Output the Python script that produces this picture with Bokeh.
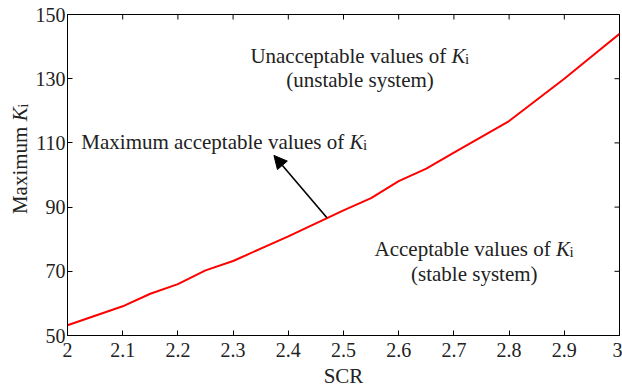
import math
from bokeh.plotting import figure
from bokeh.layouts import row
from bokeh.models import (Range1d, FixedTicker, Label, Arrow, NormalHead,
                          CustomJSTickFormatter)
from bokeh.embed import file_html
from bokeh.resources import INLINE

# ---- data ----
scr = [2.0, 2.1, 2.15, 2.2, 2.25, 2.3, 2.4, 2.5, 2.55, 2.6, 2.65, 2.7, 2.8, 2.9, 2.95, 3.0]
max_ki = [53.2, 59.1, 63.0, 66.0, 70.3, 73.2, 80.9, 89.0, 92.8, 98.1, 102.0, 107.0, 116.8, 130.0, 137.0, 144.0]
x_ticks = [2.0, 2.1, 2.2, 2.3, 2.4, 2.5, 2.6, 2.7, 2.8, 2.9, 3.0]
y_ticks = [50, 70, 90, 110, 130, 150]
arrow_from = (2.470, 86.7)
arrow_to = (2.374, 106.1)

FONT = "Liberation Serif"
TXT = "#222222"

# narrow left panel holding the rotated y-axis title
side = figure(width=32, height=392, output_backend="svg", toolbar_location=None,
              x_range=Range1d(0, 32), y_range=Range1d(0, 392),
              min_border_left=0, min_border_right=0, min_border_top=0, min_border_bottom=0)
side.axis.visible = False
side.grid.visible = False
side.outline_line_color = None
side.background_fill_color = "white"
side.border_fill_color = "white"

p = figure(width=590, height=392, output_backend="svg", toolbar_location=None,
           x_range=Range1d(2, 3), y_range=Range1d(50, 150),
           min_border_left=35, min_border_right=3, min_border_top=14, min_border_bottom=57)
p.background_fill_color = "white"
p.border_fill_color = "white"
p.xgrid.visible = False
p.ygrid.visible = False
p.outline_line_color = "black"
p.outline_line_width = 1

fmt = CustomJSTickFormatter(code="return String(Math.round(tick*10)/10);")

def style_axis(ax):
    ax.axis_line_color = "black"
    ax.major_tick_line_color = "black"
    ax.major_tick_in = 5
    ax.major_tick_out = 0
    ax.minor_tick_line_color = None
    ax.major_label_text_font = FONT
    ax.major_label_text_font_size = "20px"
    ax.major_label_text_color = TXT
    ax.axis_label_text_font = FONT
    ax.axis_label_text_font_size = "21px"
    ax.axis_label_text_font_style = "normal"
    ax.axis_label_text_color = TXT

xa = p.xaxis[0]
xa.ticker = FixedTicker(ticks=x_ticks)
xa.formatter = fmt
style_axis(xa)
xa.major_label_standoff = 7
xa.axis_label = "SCR"
xa.axis_label_standoff = 4

ya = p.yaxis[0]
ya.ticker = FixedTicker(ticks=y_ticks)
style_axis(ya)
ya.major_label_standoff = 2

# mirrored inward ticks on the top and right edges (clipped to the frame)
p.scatter(x=x_ticks, y=[y_ticks[-1]] * len(x_ticks), marker="dash", angle=math.pi / 2,
          size=10, line_color="black", line_width=1)
p.scatter(x=[x_ticks[-1]] * len(y_ticks), y=y_ticks, marker="dash",
          size=10, line_color="black", line_width=1)

p.line(scr, max_ki, line_color="#ff0000", line_width=2)

p.add_layout(Arrow(end=NormalHead(size=13, fill_color="black", line_color="black"),
                   x_start=arrow_from[0], y_start=arrow_from[1],
                   x_end=arrow_to[0], y_end=arrow_to[1],
                   line_color="black", line_width=1.6))

# Times metrics (per 1000 em)
W = {' ': 250, '(': 333, ')': 333, 'A': 722, 'M': 889, 'U': 722, 'a': 444, 'b': 500,
     'c': 444, 'e': 444, 'f': 333, 'i': 278, 'l': 278, 'm': 778, 'n': 500, 'o': 500,
     'p': 500, 's': 389, 't': 278, 'u': 500, 'v': 500, 'x': 500, 'y': 500}

def tw(s, size):
    return sum(W.get(c, 500) for c in s) / 1000 * size

def ki_text(fig, x, y, prefix, align="left", angle=0.0, size=21, sub=15, baseline="alphabetic"):
    wp = tw(prefix, size)
    wk = 0.667 * size
    wi = 0.278 * sub
    total = wp + wk + wi
    start = 0 if align == "left" else -total / 2
    pieces = [(prefix, start, 0, "normal", size),
              ("K", start + wp, 0, "italic", size),
              ("i", start + wp + wk - 0.5, -3, "normal", sub)]
    for text, along, down, style, sz in pieces:
        if angle == 0:
            xo, yo = along, down
        else:
            xo, yo = -down, along
        fig.add_layout(Label(x=x, y=y, x_offset=xo, y_offset=yo, text=text, angle=angle,
                             text_font=FONT, text_font_size=f"{sz}px", text_font_style=style,
                             text_color=TXT, text_align="left", text_baseline=baseline))

def plain(x, y, text, size=21):
    p.add_layout(Label(x=x, y=y, text=text, text_font=FONT, text_font_size=f"{size}px",
                       text_color=TXT, text_align="center", text_baseline="alphabetic"))

ki_text(p, 2.025, 110.3, "Maximum acceptable values of ", "left")
ki_text(p, 2.530, 137.1, "Unacceptable values of ", "center")
plain(2.530, 129.5, "(unstable system)")
ki_text(p, 2.737, 76.9, "Acceptable values of ", "center")
plain(2.737, 69.3, "(stable system)")
ki_text(side, 19, 216, "Maximum ", "center", angle=math.pi / 2, baseline="middle")

layout = row(side, p, spacing=0)
open("out.html", "w").write(file_html(layout, INLINE))
